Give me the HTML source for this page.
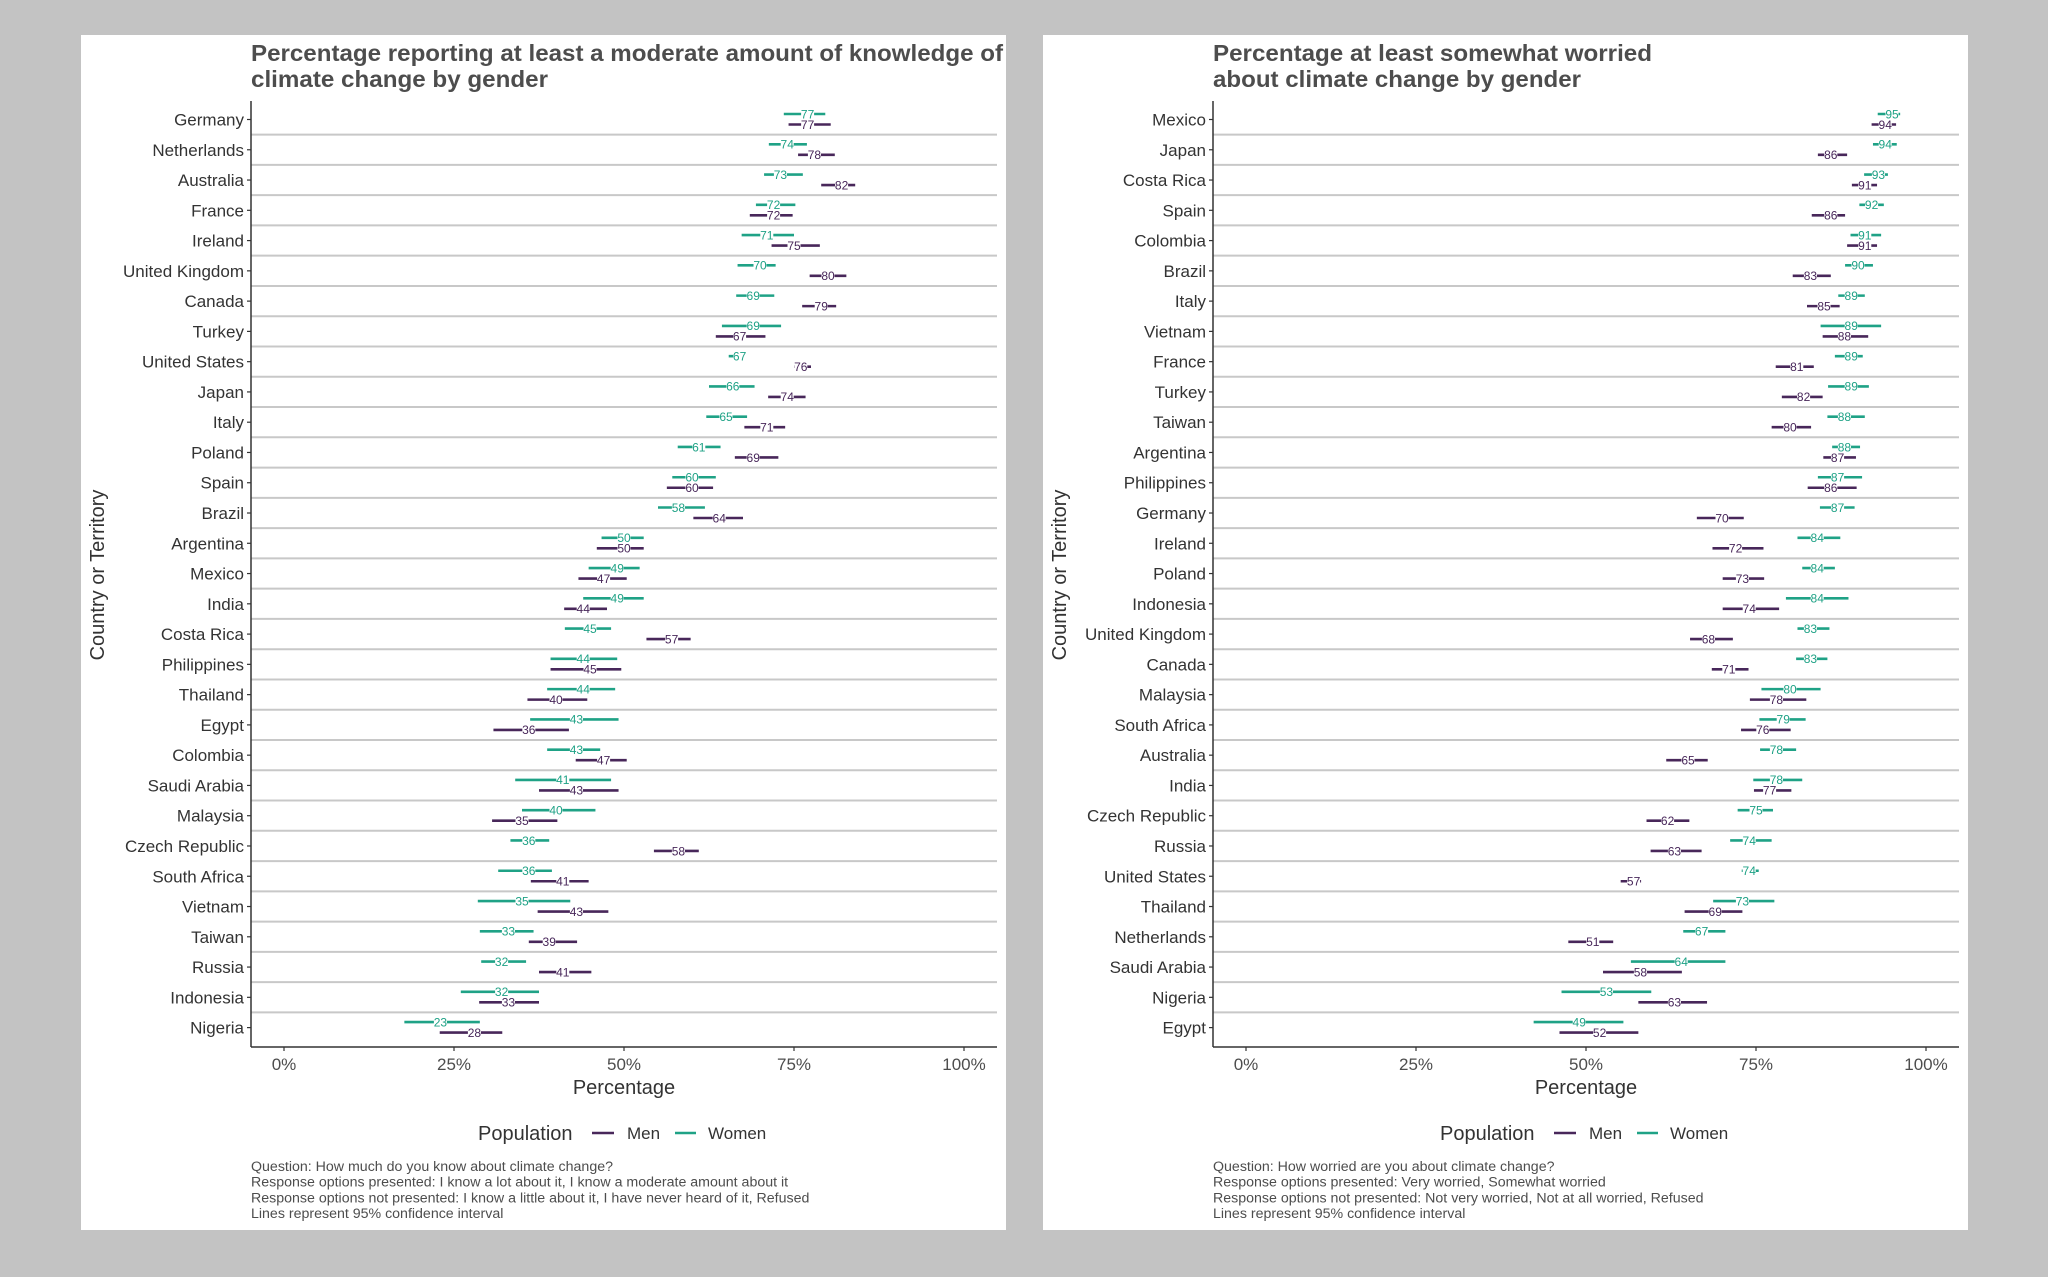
<!DOCTYPE html>
<html><head><meta charset="utf-8">
<style>
html,body{margin:0;padding:0;background:#c3c3c3;}
svg{display:block;font-family:"Liberation Sans",sans-serif;}
</style></head>
<body>
<svg id="root" width="2048" height="1277" viewBox="0 0 2048 1277" xmlns="http://www.w3.org/2000/svg">
<rect x="0" y="0" width="2048" height="1277" fill="#c3c3c3"/>
<rect x="81" y="35" width="925" height="1195" fill="#fff"/>
<rect x="1043" y="35" width="925" height="1195" fill="#fff"/>
<g id="p1"></g>
<g id="p2"></g>
</svg>
<script>
// ---- Chart 1: knowledge ----
const k_countries = ["Germany","Netherlands","Australia","France","Ireland","United Kingdom","Canada","Turkey","United States","Japan","Italy","Poland","Spain","Brazil","Argentina","Mexico","India","Costa Rica","Philippines","Thailand","Egypt","Colombia","Saudi Arabia","Malaysia","Czech Republic","South Africa","Vietnam","Taiwan","Russia","Indonesia","Nigeria"];
const k_women = [77,74,73,72,71,70,69,69,67,66,65,61,60,58,50,49,49,45,44,44,43,43,41,40,36,36,35,33,32,32,23];
const k_womenLo = [73.5,71.3,70.6,69.4,67.3,66.7,66.5,64.4,65.4,62.5,62.1,57.9,57.1,55.0,46.7,44.8,44.0,41.3,39.2,38.7,36.2,38.7,34.0,35.0,33.3,31.5,28.5,28.8,29.0,26.0,17.7];
const k_womenHi = [79.6,76.9,76.3,75.2,75.0,72.3,72.1,73.1,67.7,69.2,68.1,64.2,63.5,61.9,52.9,52.3,52.9,48.1,49.0,48.7,49.2,46.5,48.1,45.8,39.0,39.4,42.1,36.7,35.6,37.5,28.8];
const k_men = [77,78,82,72,75,80,79,67,76,74,71,69,60,64,50,47,44,57,45,40,36,47,43,35,58,41,43,39,41,33,28];
const k_menLo = [74.2,75.6,79.0,68.5,71.7,77.3,76.2,63.5,75.0,71.2,67.7,66.3,56.3,60.2,46.0,43.3,41.2,53.3,39.2,35.8,30.8,42.9,37.5,30.6,54.4,36.3,37.3,36.0,37.5,28.7,22.9];
const k_menHi = [80.4,81.0,84.0,74.8,78.8,82.7,81.2,70.8,77.5,76.7,73.7,72.7,63.1,67.5,52.9,50.4,47.5,59.8,49.6,44.6,41.9,50.4,49.2,40.2,61.0,44.8,47.7,43.1,45.2,37.5,32.1];
// ---- Chart 2: worry ----
const w_countries = ["Mexico","Japan","Costa Rica","Spain","Colombia","Brazil","Italy","Vietnam","France","Turkey","Taiwan","Argentina","Philippines","Germany","Ireland","Poland","Indonesia","United Kingdom","Canada","Malaysia","South Africa","Australia","India","Czech Republic","Russia","United States","Thailand","Netherlands","Saudi Arabia","Nigeria","Egypt"];
const w_women = [95,94,93,92,91,90,89,89,89,89,88,88,87,87,84,84,84,83,83,80,79,78,78,75,74,74,73,67,64,53,49];
const w_womenLo = [92.9,92.2,90.9,90.2,88.9,88.1,87.1,84.5,86.6,85.6,85.5,86.2,84.1,84.4,81.1,81.8,79.4,81.1,80.9,75.8,75.5,75.6,74.6,72.3,71.2,72.9,68.7,64.3,56.6,46.4,42.3];
const w_womenHi = [96.2,95.7,94.4,93.8,93.4,92.2,91.0,93.4,90.7,91.6,91.0,90.3,90.6,89.5,87.4,86.6,88.6,85.8,85.5,84.5,82.3,80.9,81.8,77.5,77.3,75.4,77.7,70.5,70.5,59.6,55.5];
const w_men = [94,86,91,86,91,83,85,88,81,82,80,87,86,70,72,73,74,68,71,78,76,65,77,62,63,57,69,51,58,63,52];
const w_menLo = [92.0,84.1,89.1,83.2,88.4,80.4,82.5,84.8,77.9,78.8,77.3,84.9,82.6,66.3,68.6,70.1,70.1,65.3,68.5,74.1,72.8,61.8,74.7,58.9,59.5,55.1,64.5,47.4,52.5,57.7,46.1];
const w_menHi = [95.6,88.4,92.8,88.1,92.8,86.0,87.3,91.5,83.5,84.8,83.1,89.7,89.8,73.2,76.1,76.2,78.4,71.6,73.9,82.4,80.1,67.9,80.2,65.2,67.0,58.1,73.0,54.0,64.1,67.8,57.7];
const xTicks = [0,25,50,75,100];
const xTickLabels = ["0%","25%","50%","75%","100%"];

const NS="http://www.w3.org/2000/svg";
const WCOL="#1fa286", MCOL="#48275a";
function mk(parent,tag,attrs,text){const e=document.createElementNS(NS,tag);for(const k in attrs)e.setAttribute(k,attrs[k]);if(text!==undefined)e.textContent=text;parent.appendChild(e);return e;}

function drawChart(g,dx,titleLines,titleLen,countries,wv,wl,wh,mv,ml,mh,caption){
  const axX=251+dx, right=997+dx, top=101, bottom=1047;
  const x=v=>284+dx+v*6.8;
  const y=i=>119.5+i*30.27;
  titleLines.forEach((t,i)=>{
    const e=mk(g,'text',{x:axX,y:61+i*26,'font-size':23,'font-weight':'bold',fill:'#4d4d4d',textLength:titleLen[i],lengthAdjust:'spacingAndGlyphs'},t);
    
    
  });
  for(let i=0;i<countries.length-1;i++){
    const l=mk(g,'line',{x1:axX,x2:right,y1:y(i)+15.1,y2:y(i)+15.1,stroke:'#c8c8c8','stroke-width':2});
    
    
  }
  const ya=mk(g,'line',{x1:axX,x2:axX,y1:top,y2:bottom,stroke:'#333','stroke-width':1.5});
  
  
  const xa=mk(g,'line',{x1:axX,x2:right,y1:bottom,y2:bottom,stroke:'#333','stroke-width':1.5});
  
  
  countries.forEach((c,i)=>{
    const tk=mk(g,'line',{x1:axX-4,x2:axX,y1:y(i),y2:y(i),stroke:'#333','stroke-width':1.2});
    
    
    const t=mk(g,'text',{x:axX-7,y:y(i)+6,'font-size':17,fill:'#333','text-anchor':'end'},c);
    
    
  });
  xTicks.forEach((v,i)=>{
    const tk=mk(g,'line',{x1:x(v),x2:x(v),y1:bottom,y2:bottom+4,stroke:'#333','stroke-width':1.2});
    
    
    const t=mk(g,'text',{x:x(v),y:bottom+23,'font-size':17,fill:'#4d4d4d','text-anchor':'middle'},xTickLabels[i]);
    
    
  });
  function series(vals,lo,hi,col,off,name){
    vals.forEach((v,i)=>{
      const yy=y(i)+off;
      const l=mk(g,'line',{x1:x(lo[i]),x2:x(hi[i]),y1:yy,y2:yy,stroke:col,'stroke-width':2.6});
      
      
      const r=mk(g,'rect',{x:x(v)-6.5,y:yy-5,width:13,height:10,fill:'#fff'});
      
      
      const t=mk(g,'text',{x:x(v),y:yy+4.3,'font-size':12,fill:col,'text-anchor':'middle'},String(v));
      
      
    });
  }
  series(wv,wl,wh,WCOL,-5.5,'women');
  series(mv,ml,mh,MCOL,5,'men');
  const xt=mk(g,'text',{x:(axX+right)/2,y:1094,'font-size':20,fill:'#333','text-anchor':'middle'},'Percentage');
  
  
  const yt=mk(g,'text',{x:0,y:0,'font-size':20,fill:'#333','text-anchor':'middle',transform:`translate(${104+dx},575) rotate(-90)`},'Country or Territory');
  
  
  const lt=mk(g,'text',{x:478+dx,y:1140,'font-size':20,fill:'#333'},'Population');
  
  
  const lm=mk(g,'line',{x1:592+dx,x2:614+dx,y1:1133,y2:1133,stroke:MCOL,'stroke-width':2.6});
  
  
  const lmt=mk(g,'text',{x:627+dx,y:1139,'font-size':17,fill:'#333'},'Men');
  
  
  const lw=mk(g,'line',{x1:675+dx,x2:696+dx,y1:1133,y2:1133,stroke:WCOL,'stroke-width':2.6});
  
  
  const lwt=mk(g,'text',{x:708+dx,y:1139,'font-size':17,fill:'#333'},'Women');
  
  
  caption.forEach((c,i)=>{
    const t=mk(g,'text',{x:axX,y:1171+i*15.7,'font-size':14.2,fill:'#4d4d4d'},c);
    
    
  });
}

drawChart(document.getElementById('p1'),0,
  ["Percentage reporting at least a moderate amount of knowledge of","climate change by gender"],[752,297],
  k_countries,k_women,k_womenLo,k_womenHi,k_men,k_menLo,k_menHi,
  ["Question: How much do you know about climate change?","Response options presented:  I know a lot about it, I know a moderate amount about it","Response options not presented: I know a little about it, I have never heard of it, Refused","Lines represent 95% confidence interval"]);
drawChart(document.getElementById('p2'),962,
  ["Percentage at least somewhat worried","about climate change by gender"],[439,368],
  w_countries,w_women,w_womenLo,w_womenHi,w_men,w_menLo,w_menHi,
  ["Question: How worried are you about climate change?","Response options presented:  Very worried, Somewhat worried","Response options not presented: Not very worried, Not at all worried, Refused","Lines represent 95% confidence interval"]);
</script>
</body></html>
